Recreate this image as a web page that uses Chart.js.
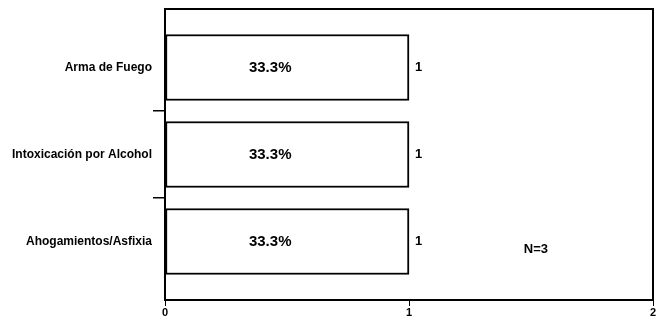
<!DOCTYPE html>
<html>
<head>
<meta charset="utf-8">
<script src="https://cdn.jsdelivr.net/npm/chart.js@4.4.1/dist/chart.umd.min.js"></script>
<style>
  html, body { margin: 0; padding: 0; background: #fff; }
  #wrap { width: 658px; height: 323px; }
</style>
</head>
<body>
<div id="wrap"><canvas id="myChart" width="658" height="323"></canvas></div>
<script>
const categories = ['Arma de Fuego', 'Intoxicación por Alcohol', 'Ahogamientos/Asfixia'];
const counts = [1, 1, 1];
const xTicks = [0, 1, 2];

const total = counts.reduce((a, b) => a + b, 0);

// labels inside bars, counts at bar ends, N in the plot
const barLabels = {
    id: 'barLabels',
    afterDatasetsDraw(chart) {
        const ctx = chart.ctx;
        const meta = chart.getDatasetMeta(0);
        ctx.save();
        ctx.fillStyle = '#000';
        ctx.textBaseline = 'middle';
        meta.data.forEach((bar, i) => {
            const pct = (counts[i] / total * 100).toFixed(1) + '%';
            ctx.font = 'bold 15px "Liberation Sans", Arial, sans-serif';
            ctx.textAlign = 'center';
            ctx.fillText(pct, bar.base + (bar.x - bar.base) * 0.43, bar.y);
            ctx.font = 'bold 13px "Liberation Sans", Arial, sans-serif';
            ctx.textAlign = 'left';
            ctx.fillText(String(counts[i]), bar.x + 6, bar.y);
        });
        const xs = chart.scales.x, ys = chart.scales.y;
        ctx.font = 'bold 13px "Liberation Sans", Arial, sans-serif';
        ctx.textAlign = 'center';
        ctx.fillText('N=' + total, xs.getPixelForValue(1.52), ys.getPixelForValue(2.09));
        ctx.restore();
    }
};

// box round the plot
const frame = {
    id: 'frame',
    afterDraw(chart) {
        const a = chart.chartArea;
        const ctx = chart.ctx;
        ctx.save();
        ctx.strokeStyle = '#000';
        ctx.lineWidth = 2;
        ctx.strokeRect(a.left, a.top, a.right - a.left, a.bottom - a.top);
        ctx.restore();
    }
};

new Chart(document.getElementById('myChart'), {
    type: 'bar',
    data: {
        datasets: [{
            data: counts.map((v, i) => ({ x: v, y: i })),
            backgroundColor: '#fff',
            borderColor: '#000',
            borderWidth: 2,
            borderSkipped: false,
            barThickness: 66
        }]
    },
    options: {
        indexAxis: 'y',
        responsive: false,
        animation: false,
        layout: { padding: { top: 9, right: 5, left: 0, bottom: 0 } },
        plugins: { legend: { display: false }, tooltip: { enabled: false } },
        scales: {
            x: {
                type: 'linear',
                min: 0,
                max: 2,
                afterBuildTicks: s => { s.ticks = xTicks.map(v => ({ value: v })); },
                afterFit: s => { s.height = 23; },
                grid: { drawOnChartArea: false, color: '#000', tickLength: 6, lineWidth: 1 },
                border: { display: false },
                ticks: { color: '#000', font: { family: '"Liberation Sans", Arial', size: 11, weight: 'bold' }, padding: 0 }
            },
            y: {
                type: 'linear',
                offset: false,
                reverse: true,
                min: -0.672,
                max: 2.672,
                afterBuildTicks: s => { s.ticks = [0, 0.5, 1, 1.5, 2].map(v => ({ value: v })); },
                afterFit: s => { s.width = 165; },
                grid: {
                    offset: false,
                    drawOnChartArea: false,
                    tickLength: 12,
                    lineWidth: 1.5,
                    tickColor: c => (c.tick && c.tick.value % 1 !== 0) ? '#000' : 'rgba(0,0,0,0)'
                },
                border: { display: false },
                ticks: {
                    color: '#000',
                    padding: 1,
                    font: { family: '"Liberation Sans", Arial', size: 12, weight: 'bold' },
                    callback: v => Number.isInteger(v) ? categories[v] : ''
                }
            }
        }
    },
    plugins: [barLabels, frame]
});
</script>
</body>
</html>
